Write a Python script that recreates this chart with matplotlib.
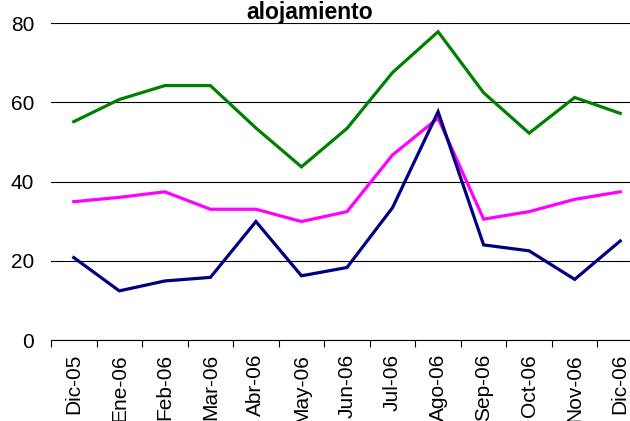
import numpy as np
import matplotlib.pyplot as plt

plt.rcParams['font.family'] = ['Liberation Sans', 'DejaVu Sans']

# Datos
meses = ["Dic-05", "Ene-06", "Feb-06", "Mar-06", "Abr-06", "May-06", "Jun-06",
         "Jul-06", "Ago-06", "Sep-06", "Oct-06", "Nov-06", "Dic-06"]
serie_verde = [55.1, 60.7, 64.2, 64.2, 53.5, 43.7, 53.4, 67.5, 77.8, 62.4, 52.2, 61.2, 57.2]
serie_magenta = [34.9, 36.0, 37.4, 33.0, 33.0, 29.9, 32.4, 46.7, 56.0, 30.5, 32.4, 35.5, 37.4]
serie_azul = [20.8, 12.4, 14.9, 15.8, 29.9, 16.2, 18.3, 33.4, 57.6, 24.0, 22.5, 15.3, 25.0]

W, H = 630, 421
fig = plt.figure(figsize=(W / 100, H / 100), dpi=100)
ax = fig.add_axes([51 / W, 1 - 340 / H, (643 - 51) / W, (340 - 23) / H])

x = np.arange(len(meses))
ax.plot(x, serie_verde, color='#008000', linewidth=2.3, solid_joinstyle='miter')
ax.plot(x, serie_magenta, color='#FF00FF', linewidth=2.3, solid_joinstyle='miter')
ax.plot(x, serie_azul, color='#000080', linewidth=2.3, solid_joinstyle='miter')

ax.set_xlim(-0.5, len(meses) - 0.5)
ax.set_ylim(0, 80)
ax.set_yticks([0, 20, 40, 60, 80])
ax.yaxis.grid(True, color='black', linewidth=0.8)
ax.set_axisbelow(True)

# etiquetas en las categorias, marcas entre categorias
ax.set_xticks(x)
ax.set_xticklabels(meses, rotation=90, fontsize=15, va='top', ha='center')
ax.set_xticks(np.arange(-0.5, len(meses), 1), minor=True)
ax.tick_params(axis='x', which='major', length=0, pad=10)
ax.tick_params(axis='x', which='minor', length=5, width=0.8, color='black', direction='out')
ax.tick_params(axis='y', length=0, labelsize=15, pad=12)

for s in ['left', 'right', 'top']:
    ax.spines[s].set_visible(False)
ax.spines['bottom'].set_color('black')
ax.spines['bottom'].set_linewidth(0.8)

fig.text(310 / W, 1 - 19 / H, "alojamiento", fontsize=16.5, fontweight='bold',
         ha='center', va='baseline')

fig.savefig("out.png", dpi=100)
